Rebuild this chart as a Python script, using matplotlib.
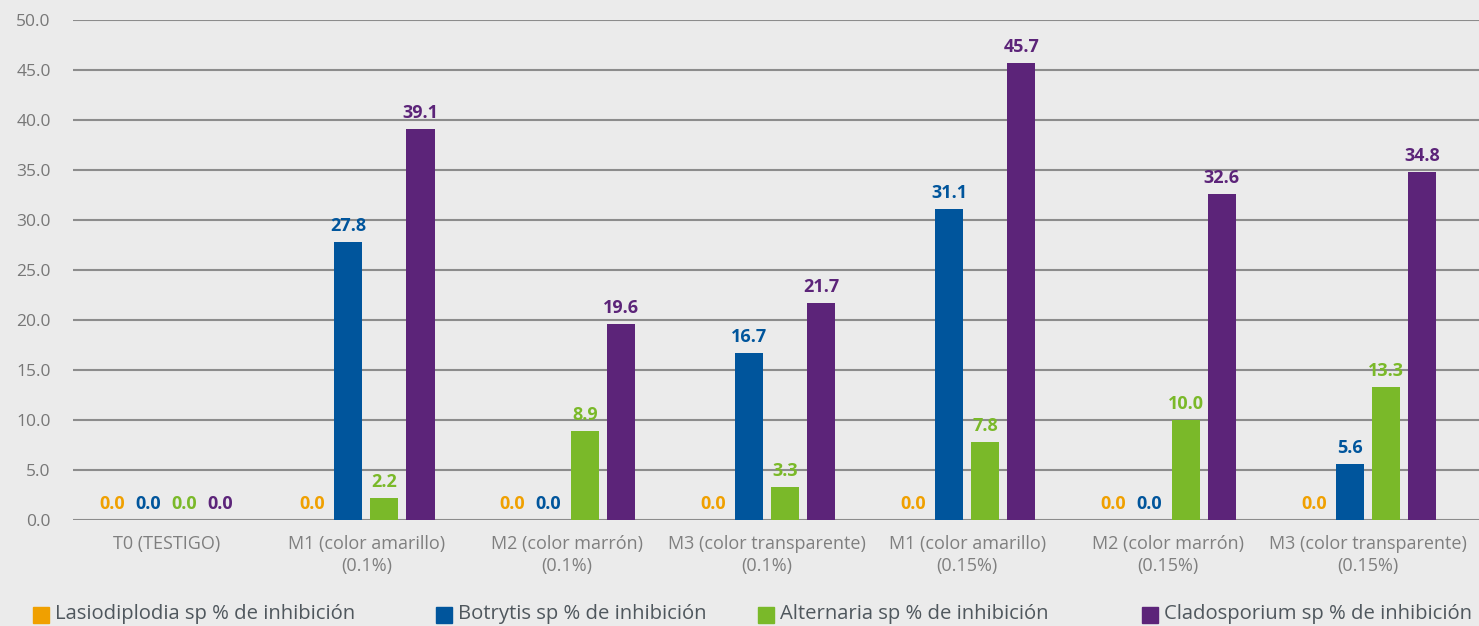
import numpy as np
import matplotlib.pyplot as plt
from matplotlib.patches import Rectangle

plt.rcParams['font.family'] = ['Open Sans', 'DejaVu Sans']

categories = ["T0 (TESTIGO)", "M1 (color amarillo)\n(0.1%)", "M2 (color marrón)\n(0.1%)",
              "M3 (color transparente)\n(0.1%)", "M1 (color amarillo)\n(0.15%)",
              "M2 (color marrón)\n(0.15%)", "M3 (color transparente)\n(0.15%)"]
series_names = ["Lasiodiplodia sp % de inhibición", "Botrytis sp % de inhibición",
                "Alternaria sp % de inhibición", "Cladosporium sp % de inhibición"]
lasiodiplodia = [0.0, 0.0, 0.0, 0.0, 0.0, 0.0, 0.0]
botrytis = [0.0, 27.8, 0.0, 16.7, 31.1, 0.0, 5.6]
alternaria = [0.0, 2.2, 8.9, 3.3, 7.8, 10.0, 13.3]
cladosporium = [0.0, 39.1, 19.6, 21.7, 45.7, 32.6, 34.8]
colors = ["#f0a000", "#00559c", "#7ab929", "#5c2479"]
bg = "#ebebeb"

fig = plt.figure(figsize=(14.79, 6.26), dpi=100, facecolor=bg)
ax = fig.add_axes([73 / 1479, 106 / 626, 1 - 73 / 1479, 500 / 626])
ax.set_facecolor(bg)

x = np.arange(len(categories))
offsets = [-0.27, -0.09, 0.09, 0.27]
width = 0.14
for vals, off, col in zip([lasiodiplodia, botrytis, alternaria, cladosporium], offsets, colors):
    ax.bar(x + off, vals, width, color=col, zorder=3)
    for xi, v in zip(x, vals):
        ax.annotate(f"{v:.1f}", (xi + off, v), xytext=(0, 5), textcoords="offset points",
                    ha="center", va="bottom", color=col, fontsize=13, fontweight="bold")

ax.set_ylim(0, 50)
ax.set_yticks(np.arange(0, 50.1, 5))
ax.set_yticklabels([f"{t:.1f}" for t in np.arange(0, 50.1, 5)])
ax.set_xlim(-0.465, 6.555)
ax.set_xticks(x)
ax.set_xticklabels(categories, linespacing=1.25)
ax.yaxis.grid(True, color="#8c8c8c", linewidth=1.5, zorder=0)
ax.set_axisbelow(True)
for s in ax.spines.values():
    s.set_visible(False)
ax.tick_params(axis="y", length=0, pad=16, labelsize=12.5, labelcolor="#777777")
ax.tick_params(axis="x", length=0, pad=11, labelsize=13, labelcolor="#7f7f7f")

# legend
leg_x = [33, 436, 758, 1142]
for lx, name, col in zip(leg_x, series_names, colors):
    fig.patches.append(Rectangle((lx / 1479, 3 / 626), 16 / 1479, 16 / 626,
                                 transform=fig.transFigure, color=col))
    fig.text((lx + 22) / 1479, 12 / 626, name, va="center", ha="left",
             fontsize=14.6, color="#4f575d")

fig.savefig("out.png", dpi=100, facecolor=bg)
